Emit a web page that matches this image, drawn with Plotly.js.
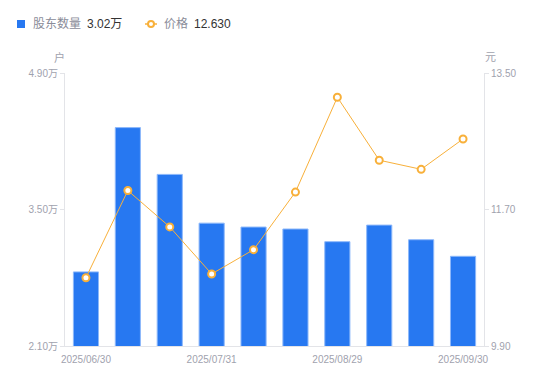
<!DOCTYPE html>
<html>
<head>
<meta charset="utf-8">
<script src="https://cdn.plot.ly/plotly-3.0.1.min.js"></script>
<style>html,body{margin:0;padding:0;background:#fff;}#chart{width:550px;height:381px;}</style>
</head>
<body>
<div id="chart"></div>
<script>
const categories = ["2025/06/30","2025/07/10","2025/07/20","2025/07/31","2025/08/10","2025/08/20","2025/08/29","2025/09/10","2025/09/19","2025/09/30"];
const holders = [2.86, 4.34, 3.86, 3.36, 3.32, 3.30, 3.17, 3.34, 3.19, 3.02];
const prices = [10.80, 11.95, 11.47, 10.85, 11.17, 11.93, 13.18, 12.35, 12.23, 12.63];
const tickCats = ["2025/06/30","2025/07/31","2025/08/29","2025/09/30"];
const leftTicks = [2.10, 3.50, 4.90];
const rightTicks = [9.90, 11.70, 13.50];
const seriesNames = ["股东数量", "价格"];

const W = 550, H = 381, L = 65, R = 66, T = 73, B = 35;
const pw = W - L - R, ph = H - T - B;
const px = x => (x - L) / pw;
const py = y => (H - B - y) / ph;
const FONT = "'Liberation Sans', Arial, 'Noto Sans CJK SC', sans-serif";
const BLUE = "#2778F1", ORANGE = "#F8B03A", GRAY = "#9FA2AE";

const traces = [
  {type: "bar", x: categories, y: holders, name: seriesNames[0], yaxis: "y",
   marker: {color: BLUE, line: {color: "#8DB8FA", width: 1}}, width: 0.6},
  {type: "scatter", mode: "lines+markers", x: categories, y: prices, name: seriesNames[1], yaxis: "y2",
   line: {color: ORANGE, width: 1},
   marker: {symbol: "circle", size: 7, color: "#fff", line: {color: ORANGE, width: 2}}}
];

const last = holders.length - 1;
const layout = {
  width: W, height: H,
  margin: {l: L, r: R, t: T, b: B, pad: 0},
  paper_bgcolor: "#fff", plot_bgcolor: "#fff",
  showlegend: false,
  font: {family: FONT, size: 10, color: GRAY},
  xaxis: {type: "category", range: [-0.5, categories.length - 0.5], tickmode: "array", tickvals: tickCats, ticktext: tickCats,
    showline: true, linecolor: "#E3E4E8", linewidth: 1, showgrid: false, zeroline: false,
    ticks: "", ticklabelstandoff: 4, tickfont: {size: 10, color: GRAY}, fixedrange: true},
  yaxis: {range: [leftTicks[0], leftTicks[2]], tickmode: "array", tickvals: leftTicks,
    ticktext: leftTicks.map(v => v.toFixed(2) + "万"),
    showline: true, linecolor: "#E3E4E8", linewidth: 1, showgrid: false, zeroline: false,
    ticks: "outside", ticklen: 4, tickcolor: "#E3E4E8", tickfont: {size: 10, color: GRAY}},
  yaxis2: {range: [rightTicks[0], rightTicks[2]], overlaying: "y", side: "right", tickmode: "array",
    tickvals: rightTicks, ticktext: rightTicks.map(v => v.toFixed(2)),
    showline: true, linecolor: "#E3E4E8", linewidth: 1, showgrid: false, zeroline: false,
    ticks: "outside", ticklen: 4, tickcolor: "#E3E4E8", tickfont: {size: 10, color: GRAY}},
  shapes: [
    {type: "rect", xref: "paper", yref: "paper", x0: px(17), x1: px(25), y0: py(28), y1: py(20),
     fillcolor: BLUE, line: {width: 0}},
    {type: "line", xref: "paper", yref: "paper", x0: px(145), x1: px(157), y0: py(24), y1: py(24),
     line: {color: ORANGE, width: 1.5}},
    {type: "circle", xref: "paper", yref: "paper", x0: px(148), x1: px(154), y0: py(27), y1: py(21),
     fillcolor: "#fff", line: {color: ORANGE, width: 2}}
  ],
  annotations: [
    {xref: "paper", yref: "paper", x: px(31), y: py(24), xanchor: "left", yanchor: "middle", showarrow: false,
     text: seriesNames[0], font: {size: 12, color: "#8A8C99"}},
    {xref: "paper", yref: "paper", x: px(85), y: py(24), xanchor: "left", yanchor: "middle", showarrow: false,
     text: holders[last].toFixed(2) + "万", font: {size: 12, color: "#333"}},
    {xref: "paper", yref: "paper", x: px(162), y: py(24), xanchor: "left", yanchor: "middle", showarrow: false,
     text: seriesNames[1], font: {size: 12, color: "#8A8C99"}},
    {xref: "paper", yref: "paper", x: px(192), y: py(24), xanchor: "left", yanchor: "middle", showarrow: false,
     text: prices[last].toFixed(3), font: {size: 12, color: "#333"}},
    {xref: "paper", yref: "paper", x: px(59), y: py(57), xanchor: "center", yanchor: "middle", showarrow: false,
     text: "户", font: {size: 11, color: GRAY}},
    {xref: "paper", yref: "paper", x: px(490), y: py(57), xanchor: "center", yanchor: "middle", showarrow: false,
     text: "元", font: {size: 11, color: GRAY}}
  ]
};

Plotly.newPlot("chart", traces, layout, {staticPlot: true, displayModeBar: false});
</script>
</body>
</html>
